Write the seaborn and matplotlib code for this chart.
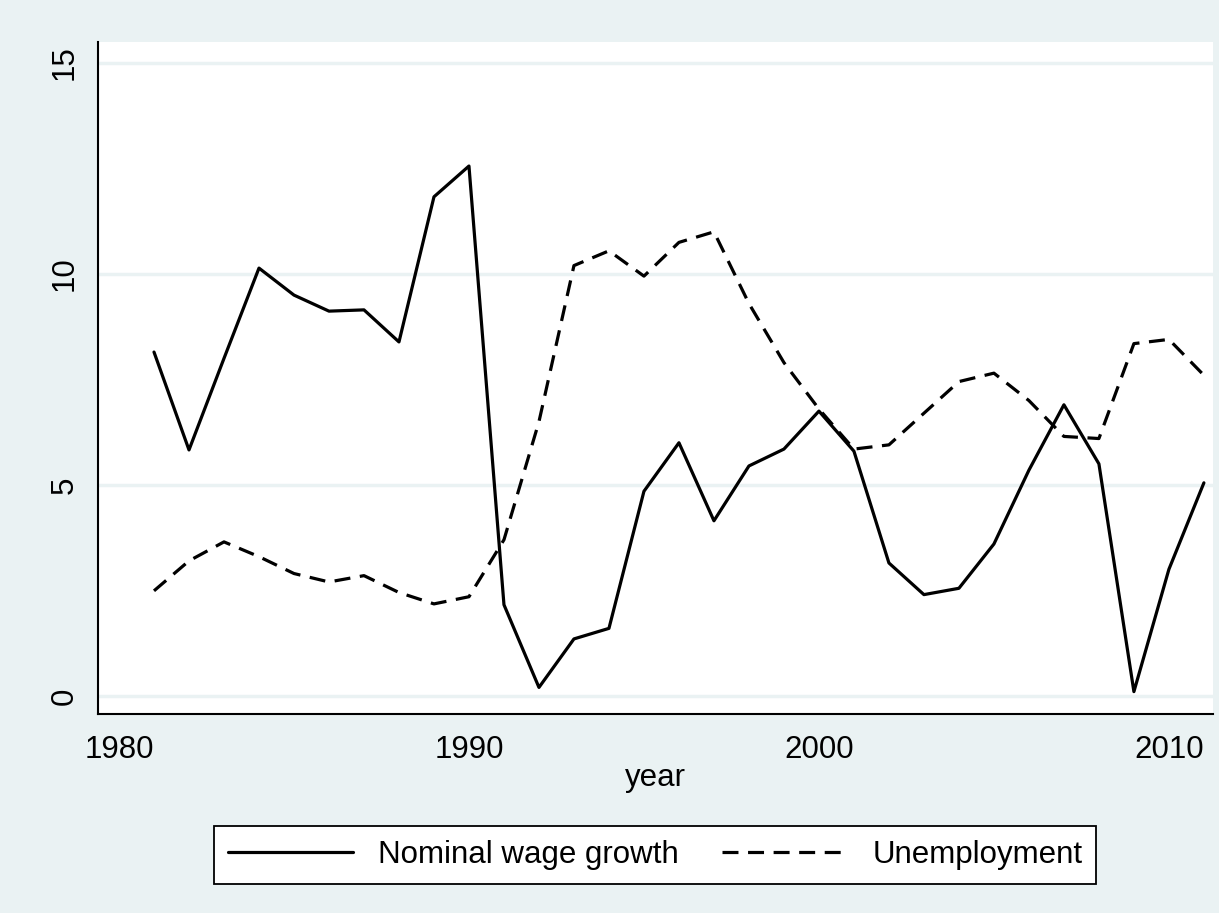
import pandas as pd
import matplotlib.pyplot as plt
import seaborn as sns

# data
years = list(range(1981, 2012))
wage_growth = [8.15, 5.83, 8.0, 10.14, 9.5, 9.12, 9.15, 8.39, 11.83, 12.56,
               2.16, 0.2, 1.35, 1.6, 4.85, 6.0, 4.15, 5.45, 5.85, 6.75,
               5.8, 3.15, 2.4, 2.55, 3.6, 5.35, 6.9, 5.5, 0.1, 3.0, 5.05]
unemployment = [2.49, 3.2, 3.65, 3.3, 2.9, 2.7, 2.85, 2.45, 2.18, 2.35,
                3.7, 6.5, 10.2, 10.55, 9.95, 10.75, 11.0, 9.3, 7.9, 6.8,
                5.85, 5.95, 6.7, 7.45, 7.65, 7.0, 6.15, 6.1, 8.35, 8.45, 7.6]
x_ticks = [1980, 1990, 2000, 2010]
y_ticks = [0, 5, 10, 15]

df = pd.DataFrame({"year": years, "wage": wage_growth, "unemp": unemployment})

sns.set_style("white")
plt.rcParams["font.family"] = ["Liberation Sans", "DejaVu Sans"]
plt.rcParams["text.color"] = "black"
plt.rcParams["xtick.color"] = "black"
plt.rcParams["ytick.color"] = "black"
plt.rcParams["axes.labelcolor"] = "black"

bg = "#eaf2f3"
fs = 22.5
W, H = 1219, 913
fig = plt.figure(figsize=(W / 100, H / 100), dpi=100, facecolor=bg)
ax = fig.add_axes([98 / W, 1 - 714 / H, (1213 - 98) / W, (714 - 42) / H])
ax.set_facecolor("white")

sns.lineplot(data=df, x="year", y="wage", color="black", lw=2.3, ax=ax,
             label="Nominal wage growth")
sns.lineplot(data=df, x="year", y="unemp", color="black", lw=2.3, ax=ax,
             label="Unemployment")
ax.lines[1].set_dashes((5, 3))

ax.set_xlim(1979.4, 2011.26)
ax.set_ylim(-0.43, 15.5)
ax.set_xticks(x_ticks)
ax.set_yticks(y_ticks)
ax.tick_params(axis="x", labelsize=fs, length=10, width=1.3, pad=5)
ax.tick_params(axis="y", labelsize=fs, length=9, width=1.3, pad=4,
               labelrotation=90)
for lab in ax.get_yticklabels():
    lab.set_va("center")
ax.yaxis.grid(True, color=bg, lw=2.5)
ax.set_axisbelow(True)
ax.set_xlabel("year", fontsize=fs, labelpad=-1)
ax.set_ylabel("")

for s in ["top", "right"]:
    ax.spines[s].set_visible(False)
for s in ["left", "bottom"]:
    ax.spines[s].set_color("black")
    ax.spines[s].set_linewidth(1.5)

ax.get_legend().remove()
leg = fig.legend(handles=ax.lines[:2], labels=["Nominal wage growth", "Unemployment"],
                 loc="center", bbox_to_anchor=(655 / W, 1 - 855 / H), ncol=2,
                 fontsize=fs, frameon=True, fancybox=False, framealpha=1,
                 edgecolor="black", handlelength=4.0, columnspacing=1.4,
                 borderpad=0.45, handletextpad=0.8)
leg.get_frame().set_linewidth(1.3)

fig.savefig("out.png", dpi=100, facecolor=bg)
